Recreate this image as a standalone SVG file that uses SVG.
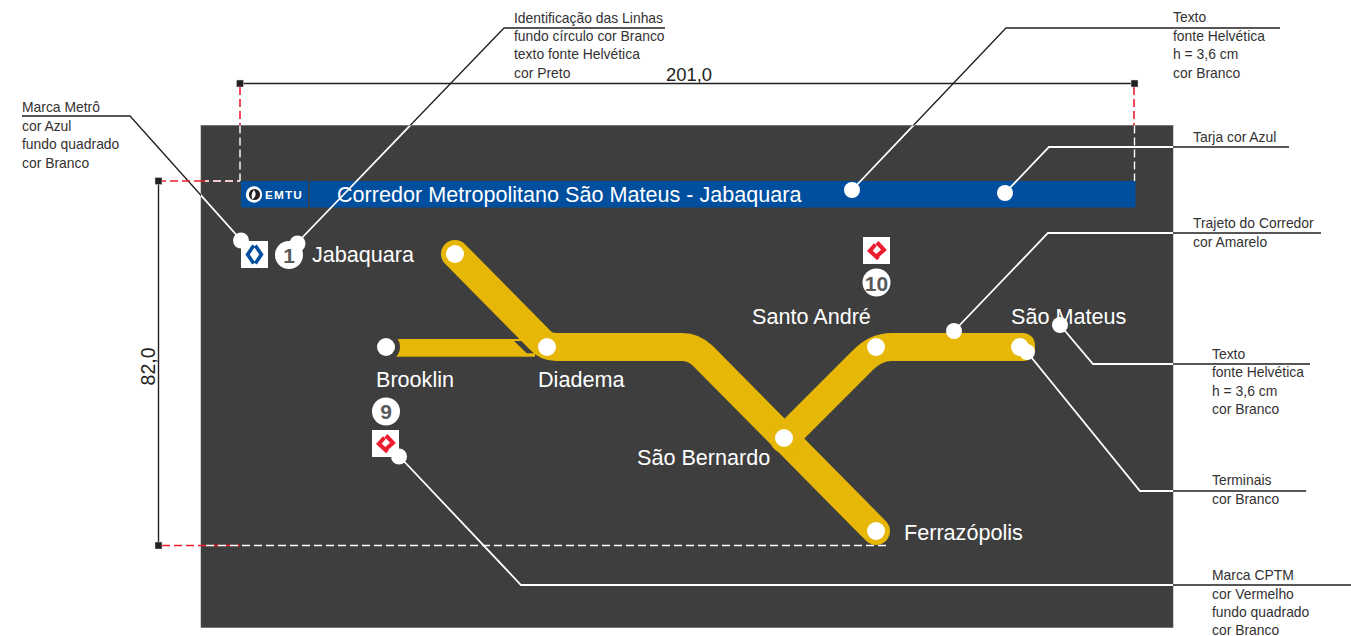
<svg xmlns="http://www.w3.org/2000/svg" xmlns:xlink="http://www.w3.org/1999/xlink" width="1351" height="636" viewBox="0 0 1351 636">
<style>
text{font-family:"Liberation Sans",Arial,Helvetica,sans-serif}
.note{font-size:13.9px;fill:#333132}
.place{font-size:21.6px;fill:#fff}
.num{font-size:21px;font-weight:bold;fill:#58595b;text-anchor:middle}
.dim{font-size:18.4px;fill:#231f20}
.lb{fill:none;stroke:#231f20;stroke-width:1.3}
.lw{fill:none;stroke:#fff;stroke-width:1.8;clip-path:url(#panelClip)}
.dot{fill:#fff}
.route{fill:none;stroke:#e6b707;stroke-width:28;stroke-linecap:round;stroke-linejoin:round}
.red{fill:none;stroke:#ed1c2e;stroke-width:1.6;stroke-dasharray:8 4}
.wd{fill:none;stroke:#fff;stroke-width:1.4;stroke-dasharray:8 4}
.sq{fill:#231f20;stroke:#d8d8d8;stroke-width:.5}
.cptm{fill:none;stroke:#ed1c2e;stroke-width:4}
</style>
<defs>
<clipPath id="panelClip"><rect x="201" y="125.5" width="972" height="502"/></clipPath>
<g id="cptmMark">
<rect x="0" y="0" width="27" height="27" fill="#fff"/>
<path class="cptm" d="M12.500 7.500L6.800 13.800L15.500 21.800"/>
<path class="cptm" d="M14 5.500L21 12.800L13.500 19.500"/>
</g>
</defs>
<g id="leaders-outer">
<path class="lb" d="M22 116H130L241 240"/>
<path class="lb" d="M297 243L504 28H665"/>
<path class="lb" d="M852 190L1006 28H1280"/>
<path class="lb" d="M1005 193L1049 147H1289"/>
<path class="lb" d="M954 331L1048 233H1321"/>
<path class="lb" d="M1060 325L1093 364H1310"/>
<path class="lb" d="M1027 352L1140 491H1306"/>
<path class="lb" d="M399 456L521 585H1351"/>
</g>
<g id="dimension-red">
<path class="red" d="M240 87V181H162"/>
<path class="red" d="M1134 87V181"/>
<path class="red" d="M162 545.5H240"/>
</g>
<rect id="panel" x="201" y="125.5" width="972" height="502" fill="#3e3e3e" stroke="#58595b" stroke-width=".6"/>
<g id="dimension-white">
<path class="red" d="M201 181H240"/>
<path class="wd" d="M240 125.5V181"/>
<path class="wd" d="M205 181H240" stroke-dashoffset="4"/>
<path class="wd" d="M1134.5 125.5V181"/>
<path class="red" d="M201 545.5H240"/>
<path class="wd" d="M206 545.5H888"/>
</g>
<g id="banner">
<rect x="241" y="181" width="67" height="26.500" fill="#004f9f"/>
<rect x="309.500" y="181" width="826" height="26.500" fill="#004f9f"/>
<circle cx="254" cy="194.500" r="8.200" fill="#fff"/>
<circle cx="254.500" cy="194.500" r="5.600" fill="#231f20"/>
<path d="M254 190Q258 195 252.500 199.500Q250 194.500 254 190Z" fill="#fff"/>
<text x="265" y="198.700" font-size="11.800" font-weight="bold" letter-spacing="1.100" fill="#fff">EMTU</text>
<text x="337" y="201.500" class="place">Corredor Metropolitano São Mateus - Jabaquara</text>
</g>
<g id="route">
<rect x="395" y="339" width="140" height="17.700" fill="#e6b707"/>
<circle cx="386" cy="347" r="14" fill="#3e3e3e"/>
<path d="M514 341H522L534.300 353.300H526.700Z" fill="#3e3e3e"/>
<path class="route" d="M455 254L540 340Q546 347 556 347H682Q694 347 703 356L876 531"/>
<path class="route" d="M784 439L862 361Q875 347 892 347H1012" stroke-linecap="butt"/>
<path d="M1012 333H1023A12 12 0 0 1 1035 345V349A12 12 0 0 1 1023 361H1012Z" fill="#e6b707"/>
</g>
<g id="leaders-inner">
<path class="lw" d="M22 116H130L241 240"/>
<path class="lw" d="M297 243L504 28H665"/>
<path class="lw" d="M852 190L1006 28H1280"/>
<path class="lw" d="M1005 193L1049 147H1289"/>
<path class="lw" d="M954 331L1048 233H1321"/>
<path class="lw" d="M1060 325L1093 364H1310"/>
<path class="lw" d="M1027 352L1140 491H1306"/>
<path class="lw" d="M399 456L521 585H1351"/>
</g>
<g id="dimensions">
<path d="M240 83.500H1134" fill="none" stroke="#231f20" stroke-width="1.400"/>
<path d="M158.500 181V545" fill="none" stroke="#231f20" stroke-width="1.400"/>
<rect class="sq" x="236.500" y="80" width="7" height="7"/>
<rect class="sq" x="1131" y="80" width="7" height="7"/>
<rect class="sq" x="155" y="177.500" width="7" height="7"/>
<rect class="sq" x="155" y="542" width="7" height="7"/>
<text class="dim" x="689" y="81" text-anchor="middle">201,0</text>
<text class="dim" font-size="19.500" style="font-size:19.500px" transform="translate(155 366.500) rotate(-90)" text-anchor="middle">82,0</text>
</g>
<g id="station-jabaquara">
<rect x="241" y="241" width="27" height="27" fill="#fff"/>
<path d="M253.700 245.500L247.600 254.500L253.700 263.500M255.300 245.500L261.400 254.500L255.300 263.500" fill="none" stroke="#004f9f" stroke-width="3.600"/>
<circle class="dot" cx="289" cy="255" r="14"/>
<text class="num" x="289" y="263">1</text>
<text class="place" x="312" y="262">Jabaquara</text>
<circle class="dot" cx="455" cy="254" r="9"/>
</g>
<g id="station-brooklin">
<circle class="dot" cx="386" cy="347" r="9"/>
<text class="place" x="376" y="387">Brooklin</text>
<circle class="dot" cx="386" cy="411.500" r="14"/>
<text class="num" x="386" y="419">9</text>
<use href="#cptmMark" xlink:href="#cptmMark" x="372" y="430"/>
</g>
<g id="station-diadema">
<circle class="dot" cx="547" cy="347" r="9"/>
<text class="place" x="538" y="387">Diadema</text>
</g>
<g id="station-sao-bernardo">
<circle class="dot" cx="784" cy="438" r="9"/>
<text class="place" x="637" y="465">São Bernardo</text>
</g>
<g id="station-ferrazopolis">
<circle class="dot" cx="876" cy="531" r="9"/>
<text class="place" x="904" y="540">Ferrazópolis</text>
</g>
<g id="station-santo-andre">
<use href="#cptmMark" xlink:href="#cptmMark" x="863" y="237"/>
<circle class="dot" cx="876.500" cy="282.500" r="14"/>
<text class="num" x="876.500" y="290.500">10</text>
<text class="place" x="752" y="324">Santo André</text>
<circle class="dot" cx="876" cy="347" r="9"/>
</g>
<g id="station-sao-mateus">
<text class="place" x="1011" y="324">São Mateus</text>
<circle class="dot" cx="1020" cy="347" r="9"/>
</g>
<g id="leader-dots">
<circle class="dot" cx="241" cy="240.500" r="8"/>
<circle class="dot" cx="297.500" cy="243.500" r="8"/>
<circle class="dot" cx="852" cy="190" r="8"/>
<circle class="dot" cx="1005" cy="193" r="8"/>
<circle class="dot" cx="954" cy="331" r="8"/>
<circle class="dot" cx="1060" cy="325" r="8"/>
<circle class="dot" cx="1027" cy="352" r="8"/>
<circle class="dot" cx="399" cy="456.500" r="8"/>
</g>
<g id="notes">
<text class="note" x="22" y="112">Marca Metrô</text>
<text class="note" x="22" y="131">cor Azul</text>
<text class="note" x="22" y="149">fundo quadrado</text>
<text class="note" x="22" y="168">cor Branco</text>
<text class="note" x="514" y="23">Identificação das Linhas</text>
<text class="note" x="514" y="41">fundo círculo cor Branco</text>
<text class="note" x="514" y="59">texto fonte Helvética</text>
<text class="note" x="514" y="78">cor Preto</text>
<text class="note" x="1173" y="22">Texto</text>
<text class="note" x="1173" y="41">fonte Helvética</text>
<text class="note" x="1173" y="59">h = 3,6 cm</text>
<text class="note" x="1173" y="78">cor Branco</text>
<text class="note" x="1193" y="142">Tarja cor Azul</text>
<text class="note" x="1193" y="228">Trajeto do Corredor</text>
<text class="note" x="1193" y="247">cor Amarelo</text>
<text class="note" x="1212" y="359">Texto</text>
<text class="note" x="1212" y="377">fonte Helvética</text>
<text class="note" x="1212" y="396">h = 3,6 cm</text>
<text class="note" x="1212" y="414">cor Branco</text>
<text class="note" x="1212" y="485">Terminais</text>
<text class="note" x="1212" y="504">cor Branco</text>
<text class="note" x="1212" y="580">Marca CPTM</text>
<text class="note" x="1212" y="599">cor Vermelho</text>
<text class="note" x="1212" y="617">fundo quadrado</text>
<text class="note" x="1212" y="635">cor Branco</text>
</g>
</svg>
